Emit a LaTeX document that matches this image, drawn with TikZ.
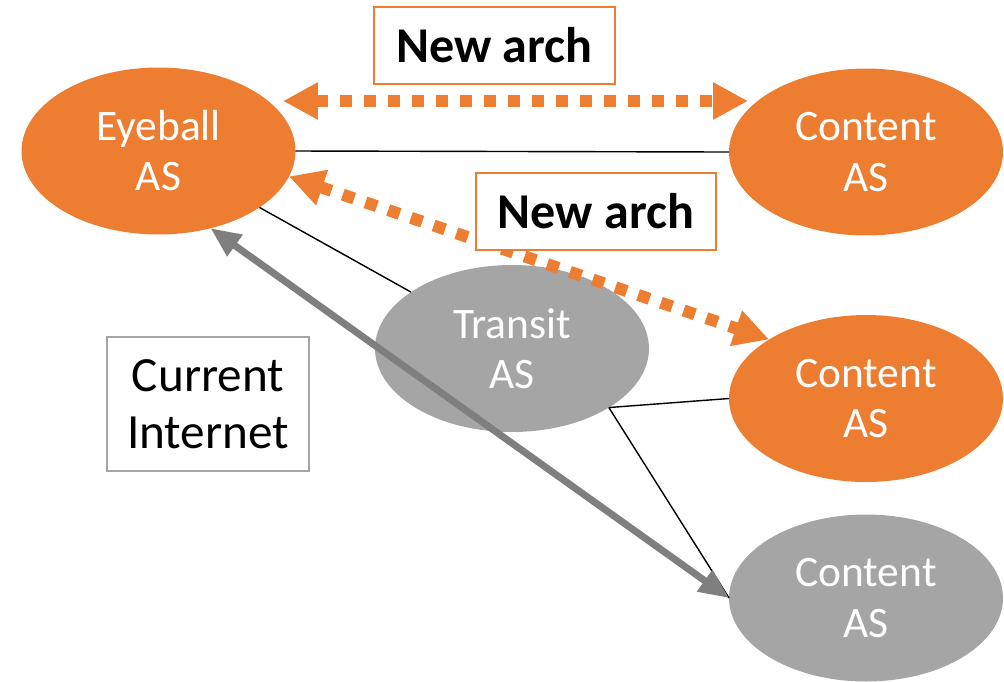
\documentclass[tikz,border=0pt]{standalone}
\usepackage{fontspec}
\setmainfont{Carlito}
\usetikzlibrary{arrows.meta,shapes.geometric,calc,positioning}

\definecolor{asorange}{HTML}{ED7D31}
\definecolor{asgray}{HTML}{A5A5A5}
\definecolor{arrgray}{HTML}{7F7F7F}

\begin{document}
\begin{tikzpicture}[
    x=0.02cm, y=-0.02cm,
    as-node/.style      = {ellipse, minimum width=5.48cm, minimum height=3.34cm,
                           inner sep=0pt, outer sep=0pt, text=white, align=center,
                           font=\fontsize{24.75}{28.5}\selectfont},
    as-orange/.style    = {as-node, fill=asorange},
    as-gray/.style      = {as-node, fill=asgray},
    link/.style         = {draw=black, line width=0.8pt},
    new-arch-arrow/.style = {draw=asorange, line width=0.24cm,
                           dash pattern=on 0.24cm off 0.24cm,
                           {Triangle[length=0.7cm, width=0.7cm]}-{Triangle[length=0.7cm, width=0.7cm]}},
    current-arrow/.style  = {draw=arrgray, line width=0.14cm,
                           {Triangle[length=0.6cm, width=0.5cm]}-{Triangle[length=0.6cm, width=0.5cm]}},
    arch-box/.style     = {draw=asorange, line width=0.04cm, fill=white,
                           minimum width=4.82cm, minimum height=1.54cm, inner sep=0pt,
                           font=\fontsize{28.5}{34}\selectfont\bfseries},
    legend-box/.style   = {draw=asgray, line width=0.04cm, fill=white, align=center,
                           minimum width=4.04cm, minimum height=2.68cm, inner sep=0pt,
                           font=\fontsize{28}{32.5}\selectfont}
  ]
\useasboundingbox (0,0) rectangle (1004,681);

% =========================================================
% Autonomous systems
% =========================================================
\node[as-orange] (eyeball)     at (158.5,151) {Eyeball\\AS};
\node[as-orange] (content-top) at (866,152)   {Content\\AS};
\node[as-gray]   (transit)     at (512,348.5) {Transit\\AS};
\node[as-orange] (content-mid) at (866,398.5) {Content\\AS};
\node[as-gray]   (content-low) at (866,598)   {Content\\AS};

% Plain peering links
\draw[link] (eyeball.east) -- (content-top.west);
\draw[link] (eyeball) -- (transit);
\draw[link] (transit.south east) -- (content-mid.west);
\draw[link] (transit.south east) -- (content-low.west);

% =========================================================
% Traffic paths
% =========================================================
\coordinate (arch-l) at (283,101);
\coordinate (arch-r) at (748,101);
\draw[new-arch-arrow] (arch-l) -- (arch-r);
\draw[new-arch-arrow] (eyeball.-11.4) -- (content-mid.north west);
\draw[current-arrow] (eyeball.-56.2) -- (content-low.west);

% Labels
\node[arch-box]   (arch-top) at (494.5,45.5) {New arch};
\node[arch-box]   (arch-mid) at (596,211)    {New arch};
\node[legend-box] (legend)   at (208,404)    {Current\\Internet};

\end{tikzpicture}
\end{document}
